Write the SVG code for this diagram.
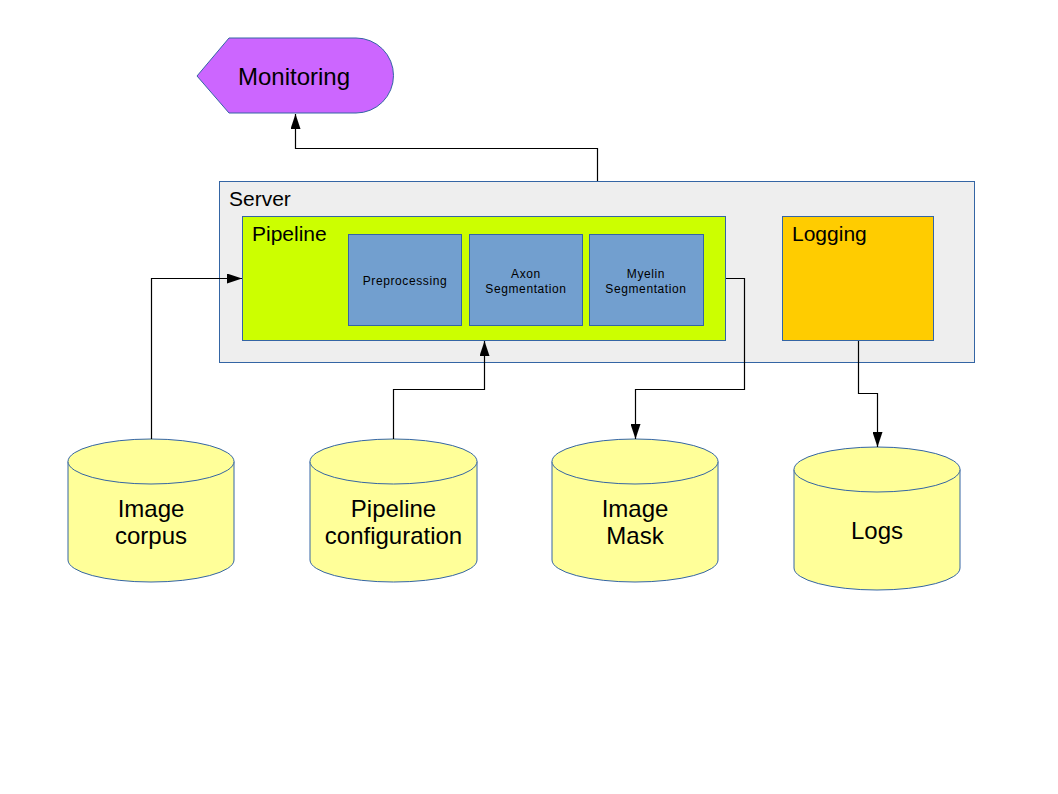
<svg xmlns="http://www.w3.org/2000/svg" width="1058" height="794" viewBox="0 0 1058 794">
<style>
text{font-family:"Liberation Sans",Arial,sans-serif;fill:#000}
.big{font-size:24px}
.mid{font-size:21px}
.small{font-size:12px;letter-spacing:0.6px}
.proc{fill:#729fcf;stroke:#3465a4;stroke-width:1}
.db{fill:#ffff99;stroke:#3465a4;stroke-width:1}
.conn{fill:none;stroke:#000;stroke-width:1.2}
</style>
<defs>
<marker id="arr" viewBox="0 0 15 10" refX="15" refY="5" markerWidth="15" markerHeight="10" markerUnits="userSpaceOnUse" orient="auto">
<path d="M0,0 L15,5 L0,10 Z" fill="#000"/>
</marker>
</defs>
<rect width="1058" height="794" fill="#fff"/>

<g id="monitoring">
<path d="M197,76 L229,38 L356,38 A37.5,37.5 0 0 1 356,113 L229,113 Z" fill="#cc66ff" stroke="#3465a4" stroke-width="1"/>
<text class="big" x="294" y="84.5" text-anchor="middle">Monitoring</text>
</g>

<g id="server">
<rect x="219.5" y="181.5" width="755" height="181" fill="#eeeeee" stroke="#3465a4" stroke-width="1"/>
<text class="mid" x="229" y="206">Server</text>
</g>

<g id="pipeline">
<rect x="242.5" y="216.5" width="483" height="124" fill="#ccff00" stroke="#3465a4" stroke-width="1"/>
<text class="mid" x="252" y="240.5">Pipeline</text>
</g>

<g id="preprocessing">
<rect class="proc" x="348.5" y="234.5" width="113" height="91"/>
<text class="small" x="405" y="285" text-anchor="middle">Preprocessing</text>
</g>

<g id="axon">
<rect class="proc" x="469.5" y="234.5" width="113" height="91"/>
<text class="small" x="526" y="277.5" text-anchor="middle">Axon</text>
<text class="small" x="526" y="292.5" text-anchor="middle">Segmentation</text>
</g>

<g id="myelin">
<rect class="proc" x="589.5" y="234.5" width="114" height="91"/>
<text class="small" x="646" y="277.5" text-anchor="middle">Myelin</text>
<text class="small" x="646" y="292.5" text-anchor="middle">Segmentation</text>
</g>

<g id="logging">
<rect x="782.5" y="216.5" width="151" height="124" fill="#ffcc00" stroke="#3465a4" stroke-width="1"/>
<text class="mid" x="792" y="240.5">Logging</text>
</g>

<g id="image-corpus">
<path class="db" d="M68,461.5 L68,560 A83,22 0 0 0 234,560 L234,461.5 A83,22.5 0 0 0 68,461.5 Z"/>
<path class="db" d="M68,461.5 A83,22.5 0 0 0 234,461.5"/>
<text class="big" x="151" y="517" text-anchor="middle">Image</text>
<text class="big" x="151" y="544" text-anchor="middle">corpus</text>
</g>

<g id="pipeline-configuration">
<path class="db" d="M310,461.5 L310,560 A83.5,22 0 0 0 477,560 L477,461.5 A83.5,22.5 0 0 0 310,461.5 Z"/>
<path class="db" d="M310,461.5 A83.5,22.5 0 0 0 477,461.5"/>
<text class="big" x="393.5" y="517" text-anchor="middle">Pipeline</text>
<text class="big" x="393.5" y="544" text-anchor="middle">configuration</text>
</g>

<g id="image-mask">
<path class="db" d="M552,461.5 L552,560 A83,22 0 0 0 718,560 L718,461.5 A83,22.5 0 0 0 552,461.5 Z"/>
<path class="db" d="M552,461.5 A83,22.5 0 0 0 718,461.5"/>
<text class="big" x="635" y="517" text-anchor="middle">Image</text>
<text class="big" x="635" y="544" text-anchor="middle">Mask</text>
</g>

<g id="logs">
<path class="db" d="M794,469.5 L794,568 A83,22 0 0 0 960,568 L960,469.5 A83,22.5 0 0 0 794,469.5 Z"/>
<path class="db" d="M794,469.5 A83,22.5 0 0 0 960,469.5"/>
<text class="big" x="877" y="538.5" text-anchor="middle">Logs</text>
</g>

<g id="connectors">
<path class="conn" d="M597.5,181 L597.5,148.5 L295.5,148.5 L295.5,114" marker-end="url(#arr)"/>
<path class="conn" d="M151.5,439 L151.5,278.5 L242,278.5" marker-end="url(#arr)"/>
<path class="conn" d="M393.5,439 L393.5,389.5 L484.5,389.5 L484.5,341" marker-end="url(#arr)"/>
<path class="conn" d="M726,278.5 L744.5,278.5 L744.5,389.5 L635.5,389.5 L635.5,439" marker-end="url(#arr)"/>
<path class="conn" d="M858.5,341 L858.5,393.5 L877.5,393.5 L877.5,447" marker-end="url(#arr)"/>
</g>
</svg>
